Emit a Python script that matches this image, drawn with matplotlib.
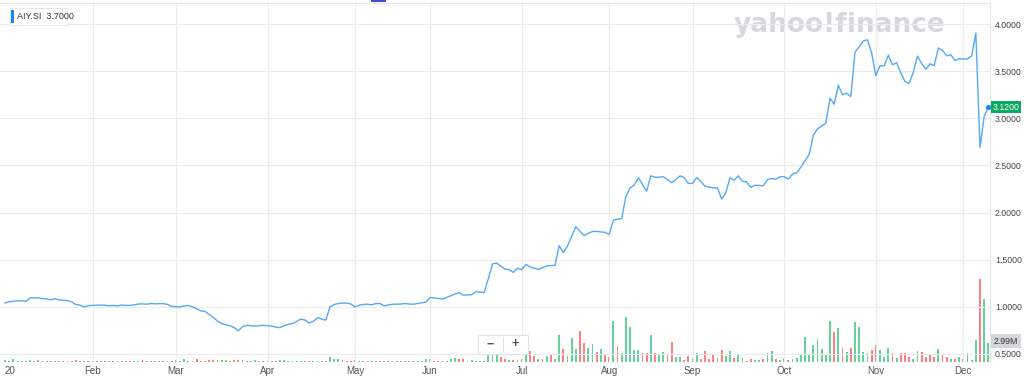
import numpy as np
import pandas as pd
import matplotlib
matplotlib.use('Agg')
import matplotlib.pyplot as plt
from matplotlib.patches import Rectangle

# trading days (SGX 2020, holidays removed)
holidays = ['2020-01-01', '2020-01-27', '2020-04-10', '2020-05-01', '2020-05-07',
            '2020-05-25', '2020-07-10', '2020-07-31', '2020-08-10']
dates = pd.bdate_range('2020-01-02', '2020-12-09')
dates = dates[~dates.isin(pd.to_datetime(holidays))]

# closing prices by month
p_jan = [1.04, 1.055, 1.06, 1.064, 1.064, 1.057, 1.095, 1.095, 1.097, 1.088, 1.084, 1.075, 1.087,
         1.073, 1.071, 1.066, 1.052, 1.025, 1.018, 1.0, 1.012]
p_feb = [1.016, 1.018, 1.018, 1.018, 1.01, 1.015, 1.01, 1.02, 1.015, 1.016, 1.02, 1.03, 1.032,
         1.028, 1.035, 1.032, 1.034, 1.035, 1.025, 1.006]
p_mar = [1.0, 1.0, 1.01, 1.015, 1.0, 0.98, 0.957, 0.952, 0.92, 0.887, 0.85, 0.823, 0.81, 0.80,
         0.78, 0.745, 0.79, 0.805, 0.80, 0.795, 0.80, 0.805]
p_apr = [0.80, 0.795, 0.785, 0.78, 0.80, 0.815, 0.823, 0.845, 0.87, 0.86, 0.83, 0.845, 0.885,
         0.87, 0.86, 1.0, 1.025, 1.035, 1.04, 1.04, 1.03]
p_may = [1.0, 1.018, 1.025, 1.028, 1.021, 1.035, 1.035, 1.01, 1.02, 1.028, 1.028, 1.03, 1.035,
         1.03, 1.028, 1.036, 1.042, 1.05]
p_jun = [1.099, 1.095, 1.088, 1.082, 1.10, 1.117, 1.135, 1.152, 1.124, 1.126, 1.13, 1.16, 1.156,
         1.152, 1.30, 1.455, 1.465, 1.43, 1.40, 1.394, 1.365, 1.41]
p_jul = [1.394, 1.45, 1.425, 1.41, 1.397, 1.415, 1.435, 1.438, 1.44, 1.65, 1.575, 1.645, 1.75,
         1.85, 1.80, 1.755, 1.78, 1.80, 1.80, 1.795, 1.79]
p_aug = [1.767, 1.92, 1.93, 1.936, 2.17, 2.26, 2.29, 2.37, 2.30, 2.227, 2.39, 2.375, 2.375, 2.38,
         2.35, 2.316, 2.35, 2.39, 2.372, 2.31]
p_sep = [2.309, 2.372, 2.33, 2.28, 2.27, 2.262, 2.262, 2.142, 2.213, 2.369, 2.344, 2.39, 2.33,
         2.326, 2.266, 2.29, 2.288, 2.284, 2.35, 2.36, 2.355, 2.38]
p_oct = [2.38, 2.355, 2.408, 2.422, 2.48, 2.55, 2.617, 2.823, 2.887, 2.92, 2.947, 3.213, 3.15,
         3.35, 3.25, 3.266, 3.23, 3.70, 3.76, 3.82, 3.833, 3.69]
p_nov = [3.454, 3.557, 3.557, 3.67, 3.567, 3.59, 3.48, 3.39, 3.37, 3.49, 3.66, 3.58, 3.52, 3.578,
         3.56, 3.745, 3.72, 3.663, 3.674, 3.613, 3.631]
p_dec = [3.63, 3.628, 3.663, 3.904, 2.69, 3.02, 3.12]

# volume in millions
v_jan = [0.31, 0.16, 0.47, 0.16, 0.08, 0.08, 0.24, 0.16, 0.24, 0.16, 0.08, 0.08, 0.08, 0.08,
         0.08, 0.08, 0.08, 0.24, 0.08, 0.08, 0.08]
v_feb = [0.08] * 12 + [0.24, 0.16, 0.08, 0.08, 0.08, 0.08, 0.08, 0.16]
v_mar = [0.24, 0.08, 0.47, 0.08, 0.08, 0.47, 0.16, 0.08, 0.31, 0.24, 0.24, 0.24, 0.24, 0.08,
         0.24, 0.24, 0.24, 0.16, 0.08, 0.39, 0.08, 0.16]
v_apr = [0.08, 0.08, 0.08, 0.39, 0.39, 0.08, 0.08, 0.08, 0.16, 0.08, 0.16, 0.08, 0.08, 0.08,
         0.08, 0.71, 0.47, 0.47, 0.31, 0.08, 0.08]
v_may = [0.24] + [0.08] * 16 + [0.43]
v_jun = [0.52, 0.16, 0.16, 0.16, 0.16, 0.43, 0.63, 0.52, 0.52, 0.2, 0.31, 0.2, 0.11, 0.08,
         3.0, 3.0, 3.0, 0.79, 0.52, 0.31, 0.31, 0.31]
v_jul = [0.43, 1.15, 1.73, 0.94, 0.43, 0.52, 0.9, 1.15, 0.52, 4.29, 2.09, 0.94, 3.77, 2.0, 4.87,
         3.03, 2.2, 2.87, 1.57, 2.09, 1.3]
v_aug = [0.79, 6.39, 2.47, 1.46, 7.07, 5.5, 1.93, 1.93, 1.46, 1.46, 4.19, 1.46, 1.15, 1.57, 1.15,
         3.14, 0.79, 0.79, 0.36, 0.94]
v_sep = [0.52, 1.46, 0.52, 1.68, 0.43, 1.15, 0.63, 1.93, 0.94, 1.73, 0.63, 1.15, 0.63, 0.16,
         0.43, 0.27, 0.27, 0.43, 1.46, 1.68, 0.43, 0.36]
v_oct = [0.55, 0.39, 0.47, 0.55, 1.15, 3.93, 1.3, 2.62, 3.56, 2.09, 1.15, 6.39, 4.71, 5.39, 2.25,
         1.57, 2.25, 6.28, 5.5, 1.57, 1.46, 1.93]
v_nov = [2.62, 1.93, 0.79, 2.2, 1.46, 0.63, 1.46, 1.46, 0.79, 0.52, 1.73, 1.57, 0.79, 1.05, 0.79,
         2.09, 1.15, 0.79, 0.43, 0.43, 0.79]
v_dec = [0.52, 1.42, 0.27, 3.41, 13.0, 9.85, 2.99]

# g = up day, r = down day
d_all = ("gggggrgrgrgrgrgrrrgrg" + "grgrgrgrgrggrrgrgrgr" + "ggggrrrrrrrggrrrgrggrg"
         + "rrrggggggrrggrrggggrr" + "rggrggrrgrggrgrggg" + "grrrgggrrggggggggrrgrg"
         + "rgrrgrgrggrgggrrggrgr" + "rgrgggggrrgrggrrggrr" + "ggrrrrgrggrggrrggrggrg"
         + "grggggggggggrgrgrggggr" + "rgggrgrrrggrrrrgrrgrg" + "rgggrgg")

close = p_jan + p_feb + p_mar + p_apr + p_may + p_jun + p_jul + p_aug + p_sep + p_oct + p_nov + p_dec
volume = v_jan + v_feb + v_mar + v_apr + v_may + v_jun + v_jul + v_aug + v_sep + v_oct + v_nov + v_dec

df = pd.DataFrame({'close': close, 'volume': volume, 'dir': list(d_all)}, index=dates)
x = np.arange(len(df))

month_labels = ['20', 'Feb', 'Mar', 'Apr', 'May', 'Jun', 'Jul', 'Aug', 'Sep', 'Oct', 'Nov', 'Dec']
month_pos = [np.argmax(df.index.month == m) for m in range(1, 13)]

price_ticks = [0.5, 1.0, 1.5, 2.0, 2.5, 3.0, 3.5, 4.0]

plt.rcParams['font.family'] = ['Liberation Sans', 'DejaVu Sans']

W, H = 1024, 384
fig = plt.figure(figsize=(W / 100, H / 100), dpi=100)


def fx(px):
    return px / W


def fy(py):
    return 1 - py / H


rect = [0, fy(362), fx(990), fy(3) - fy(362)]
axv = fig.add_axes(rect, zorder=1)
ax = fig.add_axes(rect, zorder=2)
ax.patch.set_visible(False)

xlim = (-1.2, 236.4)

# volume bars
cols = np.where(df['dir'] == 'g', '#28c17a', '#ff4f4f')
axv.bar(x, df['volume'], width=0.42, color=cols, alpha=0.72, linewidth=0)
axv.set_xlim(xlim)
axv.set_ylim(0, 56.4)
axv.axis('off')

# price line
ax.plot(x, df['close'], color='#55a9f7', lw=1.0, zorder=3)
ax.scatter([x[-1]], [df['close'].iloc[-1]], s=14, color='#1a86ef', zorder=4, linewidths=0)
ax.set_xlim(xlim)
ax.set_ylim(0.415, 4.223)

for t in price_ticks:
    ax.axhline(t, color='#ececec', lw=0.8, zorder=0)
for p in month_pos[1:]:
    ax.axvline(p, color='#ececec', lw=0.8, zorder=0)

ax.yaxis.tick_right()
ax.set_yticks(price_ticks)
ax.set_yticklabels(['%.4f' % t for t in price_ticks])
ax.tick_params(axis='y', length=0, pad=3.5, labelsize=6.3, labelcolor='#444')
ax.set_xticks(month_pos)
ax.set_xticklabels(month_labels)
ax.tick_params(axis='x', length=0, pad=3, labelsize=7, labelcolor='#555')
ax.get_xticklabels()[0].set_horizontalalignment('left')
for s in ['left', 'bottom']:
    ax.spines[s].set_visible(False)
ax.spines['top'].set_color('#e6e6e6')
ax.spines['right'].set_color('#e6e6e6')
ax.spines['top'].set_linewidth(0.8)
ax.spines['right'].set_linewidth(0.8)

# watermark
fig.text(fx(840), fy(25), 'yahoo!finance', ha='center', va='center', fontsize=19,
         fontweight='bold', color='#d5d8dd', family=['DejaVu Sans'], zorder=1)

# legend chip
fig.patches.append(Rectangle((fx(10), fy(25)), fx(57), fy(8) - fy(25), transform=fig.transFigure,
                             facecolor='white', edgecolor='#e4e4e4', lw=0.6, zorder=5))
fig.patches.append(Rectangle((fx(11), fy(23)), fx(2.5), fy(10) - fy(23), transform=fig.transFigure,
                             facecolor='#1a86ef', edgecolor='none', zorder=6))
fig.text(fx(17), fy(16.5), 'AIY.SI  3.7000', fontsize=6.5, color='#333', va='center', zorder=7)

# top marker
fig.patches.append(Rectangle((fx(371), fy(2)), fx(15), fy(0) - fy(2), transform=fig.transFigure,
                             facecolor='#3b4fd8', edgecolor='none', zorder=5))

# last price tag
fig.patches.append(Rectangle((fx(991), fy(113)), fx(30), fy(101) - fy(113), transform=fig.transFigure,
                             facecolor='#0aa860', edgecolor='none', zorder=5))
fig.text(fx(1006), fy(107), '%.4f' % close[-1], fontsize=6.3, color='white', ha='center', va='center',
         zorder=6)

# last volume tag
fig.patches.append(Rectangle((fx(991), fy(348)), fx(30), fy(334) - fy(348), transform=fig.transFigure,
                             facecolor='#d4d6da', edgecolor='none', zorder=5))
fig.text(fx(1006), fy(341), '%.2fM' % volume[-1], fontsize=6.3, color='#333', ha='center', va='center',
         zorder=6)

# zoom buttons
fig.patches.append(Rectangle((fx(478), fy(354)), fx(50), fy(335) - fy(354), transform=fig.transFigure,
                             facecolor='white', edgecolor='#e2e2e2', lw=0.8, zorder=5))
fig.lines.append(plt.Line2D([fx(503), fx(503)], [fy(337), fy(352)], transform=fig.transFigure,
                            color='#e2e2e2', lw=0.8, zorder=6))
fig.text(fx(490.5), fy(344.5), '\u2212', fontsize=9, color='#555', ha='center', va='center',
         fontweight='bold', zorder=7)
fig.text(fx(515), fy(344.5), '+', fontsize=9, color='#555', ha='center', va='center',
         fontweight='bold', zorder=7)

plt.savefig('out.png', dpi=100)
